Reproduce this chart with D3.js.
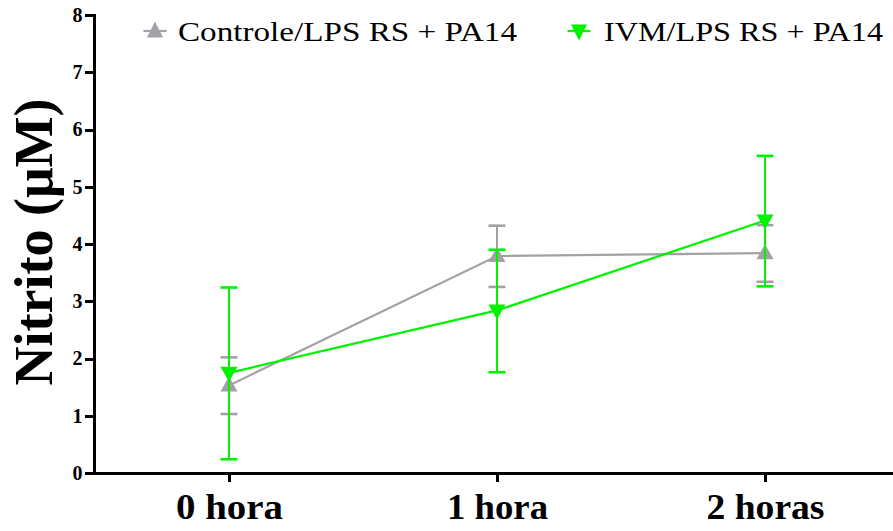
<!DOCTYPE html>
<html>
<head>
<meta charset="utf-8">
<script src="https://cdn.jsdelivr.net/npm/d3@7"></script>
<style>
  html, body { margin: 0; padding: 0; background: #fff; }
  svg { display: block; }
</style>
</head>
<body>
<svg id="chart" width="893" height="531"></svg>
<script>
// Nitrite concentration over time, two treatment groups (mean ± error)
const timepoints = ["0 hora", "1 hora", "2 horas"];
const seriesNames = ["Controle/LPS RS + PA14", "IVM/LPS RS + PA14"];
const controleMean = [1.53, 3.79, 3.84];
const controleLow  = [1.03, 3.25, 3.34];
const controleHigh = [2.02, 4.32, 4.33];
const ivmMean = [1.75, 2.84, 4.41];
const ivmLow  = [0.24, 1.76, 3.26];
const ivmHigh = [3.24, 3.90, 5.54];
const yTicks = [0, 1, 2, 3, 4, 5, 6, 7, 8];

const FONT = "'Liberation Serif', 'Times New Roman', Times, serif";
const svg = d3.select("#chart").attr("font-family", FONT);
const W = 893;
const axisX = 94.5;

const x = d3.scalePoint().domain(timepoints).range([229, 765]);
const y = d3.scaleLinear().domain([0, 8]).range([473, 15]);

const series = [
  { name: seriesNames[0], color: "#a2a2a6", mean: controleMean, lo: controleLow, hi: controleHigh, up: true },
  { name: seriesNames[1], color: "#00f200", mean: ivmMean, lo: ivmLow, hi: ivmHigh, up: false }
];

// Y axis
const yAxis = d3.axisLeft(y).tickValues(yTicks).tickSize(10).tickPadding(2).tickFormat(d3.format("d"));
const gy = svg.append("g").attr("transform", `translate(${axisX},0)`).call(yAxis);
gy.attr("font-family", FONT);
gy.select(".domain").attr("stroke", "#000").attr("stroke-width", 3)
  .attr("shape-rendering", "crispEdges").attr("d", `M0,${y(8) - 1}V${y(0)}`);
gy.selectAll(".tick line").attr("stroke", "#000").attr("stroke-width", 3).attr("shape-rendering", "crispEdges");
gy.selectAll(".tick text").attr("font-size", 20).attr("font-weight", "bold").attr("fill", "#000");

// X axis
const xAxis = d3.axisBottom(x).tickSize(9).tickPadding(12);
const gx = svg.append("g").attr("transform", `translate(0,${y(0)})`).call(xAxis);
gx.attr("font-family", FONT);
gx.select(".domain").attr("stroke", "#000").attr("stroke-width", 3)
  .attr("shape-rendering", "crispEdges").attr("d", `M${axisX - 1.5},0H${W}`);
gx.selectAll(".tick line").attr("stroke", "#000").attr("stroke-width", 3).attr("shape-rendering", "crispEdges");
const xLabelWidths = [107, 101, 118];
gx.selectAll(".tick text")
  .attr("font-size", 35).attr("font-weight", "bold").attr("fill", "#000")
  .attr("dy", "0.71em")
  .attr("textLength", (d, i) => xLabelWidths[i])
  .attr("lengthAdjust", "spacingAndGlyphs");

// Y axis title
svg.append("text")
  .attr("transform", `translate(52,242) rotate(-90)`)
  .attr("text-anchor", "middle")
  .attr("font-size", 54).attr("font-weight", "bold").attr("fill", "#000")
  .text("Nitrito (μM)");

// Triangle marker path (pointing up or down)
function tri(up, w, h) {
  return up
    ? `M0,${-h * 0.6}L${w / 2},${h * 0.4}L${-w / 2},${h * 0.4}Z`
    : `M0,${h * 0.6}L${w / 2},${-h * 0.4}L${-w / 2},${-h * 0.4}Z`;
}

const line = d3.line().x((d, i) => x(timepoints[i])).y(d => y(d));

series.forEach(s => {
  const g = svg.append("g");
  // error bars with caps
  timepoints.forEach((t, i) => {
    const cx = x(t);
    g.append("line").attr("x1", cx).attr("x2", cx).attr("y1", y(s.lo[i])).attr("y2", y(s.hi[i]))
      .attr("stroke", s.color).attr("stroke-width", 2);
    [s.lo[i], s.hi[i]].forEach(v => {
      g.append("line").attr("x1", cx - 8.5).attr("x2", cx + 8.5).attr("y1", y(v)).attr("y2", y(v))
        .attr("stroke", s.color).attr("stroke-width", 2.6);
    });
  });
  g.append("path").datum(s.mean).attr("d", line).attr("fill", "none")
    .attr("stroke", s.color).attr("stroke-width", 2.2);
  g.selectAll("path.marker").data(s.mean).join("path").attr("class", "marker")
    .attr("transform", (d, i) => `translate(${x(timepoints[i])},${y(d)})`)
    .attr("d", tri(s.up, 17, 15)).attr("fill", s.color);
});

// Legend: short line sample with marker, then label
const legendCx = [155, 579];
const legendTextX = [178, 604];
const legendTextW = [339, 279];
series.forEach((s, i) => {
  const lg = svg.append("g").attr("transform", `translate(${legendCx[i]},31)`);
  lg.append("line").attr("x1", -11.5).attr("x2", 11.5).attr("y1", 0).attr("y2", 0)
    .attr("stroke", s.color).attr("stroke-width", 2.2);
  lg.append("path").attr("d", tri(s.up, 16, 16)).attr("fill", s.color);
  svg.append("text").attr("x", legendTextX[i]).attr("y", 41)
    .attr("font-size", 27).attr("fill", "#000")
    .attr("textLength", legendTextW[i]).attr("lengthAdjust", "spacingAndGlyphs")
    .text(s.name);
});
</script>
</body>
</html>
